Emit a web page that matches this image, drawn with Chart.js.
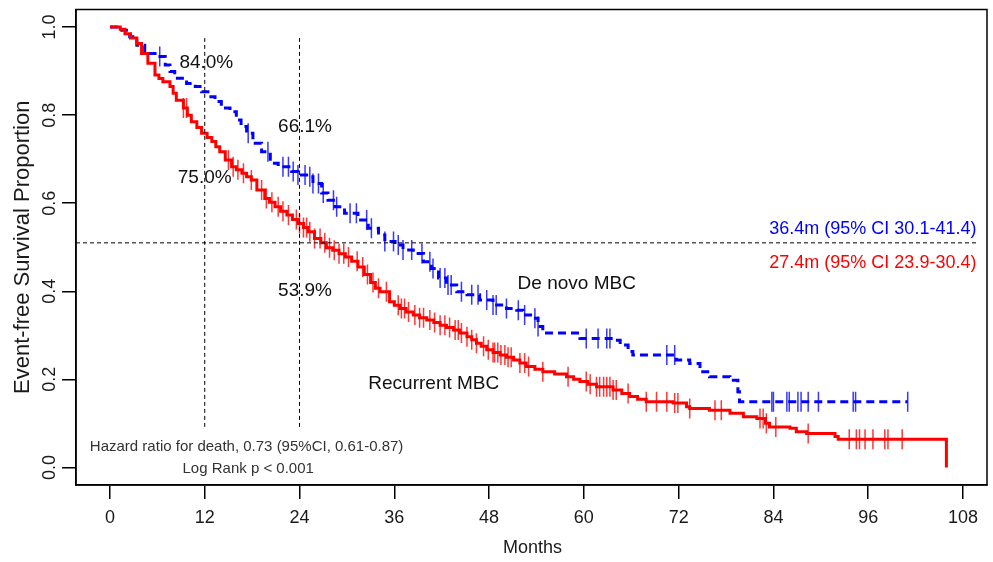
<!DOCTYPE html>
<html>
<head>
<meta charset="utf-8">
<script src="https://cdn.jsdelivr.net/npm/chart.js@4.4.1/dist/chart.umd.min.js"></script>
<style>
  html, body { margin: 0; padding: 0; background: #fff; }
</style>
</head>
<body>
<canvas id="chart" width="993" height="562"></canvas>
<script>
// ========================== DATA ==========================
const xTicks = [0, 12, 24, 36, 48, 60, 72, 84, 96, 108];
const yTicks = [0.0, 0.2, 0.4, 0.6, 0.8, 1.0];

// De novo MBC (blue, dashed) - KM steps
const deNovoMonths = [0, 1.5, 2.5, 3.4, 4.4, 6.1, 7.0, 7.6, 8.2, 9.7, 10.8, 11.6, 12.4, 13.3, 14.1, 15.2, 16.0, 16.6, 17.3, 18.1,
  19.2, 20.3, 21.3, 23.0, 23.8, 24.9, 25.7, 26.8, 27.6, 28.5, 29.7, 31.4, 32.7, 34.0, 34.8, 36.1, 37.1, 38.4, 39.7, 40.7,
  41.6, 42.6, 43.9, 45.2, 46.8, 48.5, 50.2, 51.5, 52.3, 53.6, 54.2, 54.8, 59.5, 63.7, 64.6, 65.6, 66.2, 71.7, 73.4, 74.7,
  75.9, 78.5, 79.5, 79.7, 101.0];
const deNovoSurv = [1.0, 0.993, 0.978, 0.959, 0.94, 0.933, 0.914, 0.899, 0.884, 0.872, 0.865, 0.853, 0.842, 0.831, 0.816, 0.808, 0.789, 0.774, 0.759, 0.736,
  0.717, 0.691, 0.683, 0.672, 0.664, 0.66, 0.645, 0.623, 0.607, 0.592, 0.577, 0.562, 0.543, 0.528, 0.513, 0.505, 0.494, 0.486, 0.467, 0.452,
  0.43, 0.414, 0.399, 0.392, 0.38, 0.369, 0.361, 0.357, 0.346, 0.339, 0.32, 0.305, 0.293, 0.289, 0.278, 0.263, 0.255, 0.244, 0.236, 0.217,
  0.206, 0.198, 0.172, 0.149, 0.149];
const deNovoCensor = [6.3, 17.5, 20.0, 21.9, 22.6, 23.2, 23.8, 24.7, 25.3, 25.7, 26.4, 27.0, 28.3, 28.7, 30.4, 31.2, 32.5, 33.1, 34.8, 35.9,
  36.5, 37.1, 38.2, 39.5, 40.5, 40.9, 41.8, 42.4, 42.8, 43.2, 44.5, 45.8, 46.6, 47.7, 48.5, 48.9, 50.2, 51.7, 52.5, 53.8,
  54.2, 60.3, 61.8, 62.9, 63.3, 70.5, 71.5, 83.8, 84.0, 85.7, 86.0, 87.1, 87.5, 88.4, 89.7, 94.1, 94.4, 101.0];

// Recurrent MBC (red, solid)
const recurMonths = [0, 1.3, 1.9, 2.6, 3.4, 4.0, 4.8, 5.7, 6.2, 6.7, 7.6, 8.0, 8.4, 9.3, 9.8, 10.3, 11.0, 11.6, 12.3, 12.9,
  13.4, 13.9, 14.6, 15.4, 16.0, 16.7, 17.3, 17.9, 18.6, 19.6, 20.2, 20.9, 21.6, 22.4, 23.1, 23.8, 24.5, 25.1, 25.9, 26.7,
  27.4, 28.2, 29.0, 29.8, 30.6, 31.4, 32.2, 33.0, 33.6, 34.2, 35.4, 36.0, 36.7, 37.5, 38.4, 39.2, 40.1, 41.0, 41.8, 42.6,
  43.5, 44.3, 45.2, 45.8, 46.4, 47.0, 47.7, 48.5, 49.4, 50.2, 51.1, 51.9, 52.7, 53.8, 54.8, 56.3, 57.8, 58.7, 59.5, 60.5,
  61.6, 63.7, 64.8, 65.8, 66.8, 67.9, 71.3, 73.0, 73.4, 75.9, 78.5, 80.2, 81.9, 83.0, 83.5, 86.1, 86.9, 88.2, 91.8, 92.2,
  105.9];
const recurSurv = [1.0, 0.995, 0.985, 0.975, 0.963, 0.94, 0.918, 0.891, 0.883, 0.876, 0.865, 0.85, 0.834, 0.816, 0.80, 0.785, 0.772, 0.759, 0.749, 0.74,
  0.728, 0.717, 0.698, 0.683, 0.676, 0.668, 0.66, 0.653, 0.63, 0.611, 0.602, 0.592, 0.582, 0.573, 0.563, 0.554, 0.545, 0.535, 0.52, 0.51,
  0.499, 0.493, 0.485, 0.478, 0.468, 0.455, 0.438, 0.42, 0.407, 0.399, 0.376, 0.368, 0.361, 0.353, 0.346, 0.34, 0.335, 0.329, 0.323, 0.318,
  0.312, 0.305, 0.297, 0.29, 0.282, 0.275, 0.267, 0.261, 0.255, 0.25, 0.244, 0.237, 0.229, 0.223, 0.217, 0.212, 0.206, 0.20, 0.195, 0.189,
  0.183, 0.176, 0.168, 0.161, 0.155, 0.149, 0.146, 0.138, 0.134, 0.13, 0.123, 0.115, 0.111, 0.10, 0.092, 0.089, 0.081, 0.077, 0.07, 0.064,
  0.0];
const recurCensor = [9.3, 9.7, 15.0, 15.6, 16.2, 16.9, 17.9, 19.2, 19.8, 20.5, 21.3, 21.9, 22.6, 23.6, 24.0, 24.5, 24.9, 25.3, 25.9, 26.6,
  27.2, 27.8, 28.4, 29.0, 29.6, 30.2, 31.3, 32.0, 32.6, 33.3, 34.0, 35.0, 36.5, 36.9, 37.3, 37.8, 38.6, 39.2, 39.7, 40.5,
  41.1, 41.8, 42.4, 43.0, 43.7, 44.1, 44.5, 45.2, 45.8, 46.4, 47.3, 47.9, 48.5, 48.7, 49.1, 49.5, 50.0, 50.4, 50.8, 51.9,
  52.5, 53.0, 54.8, 58.0, 60.3, 60.8, 61.6, 62.0, 62.5, 62.9, 63.3, 63.7, 64.1, 65.6, 67.9, 69.2, 70.5, 71.5, 71.9, 73.4,
  76.6, 77.4, 82.3, 82.7, 83.1, 84.3, 88.4, 93.6, 94.5, 94.9, 95.6, 96.6, 98.1, 98.5, 100.3];

// reference lines (landmarks at 12 / 24 months, median line)
const landmarkMonths = [12, 24];
const landmarkSpan = [0.092, 0.975];
const medianLevel = 0.51;
const medianSpan = [-4.3, 109.9];

// ========================== HELPERS ==========================
const FONT = "'Liberation Sans', Arial, sans-serif";

function toPoints(xs, ys) {
  return xs.map((x, i) => ({ x, y: ys[i] }));
}

// survival value of the step curve at month m (censor marks sit on the curve)
function survAt(months, surv, m) {
  let s = surv[0];
  for (let i = 0; i < months.length; i++) {
    if (months[i] <= m) s = surv[i];
  }
  return s;
}

function censorPoints(months, surv, cens) {
  return cens.map(m => ({ x: m, y: survAt(months, surv, m) }));
}

// ========================== TEXT PLUGIN ==========================
const labels = [
  { text: "84.0%", x: 12.2, y: 0.92, size: 19, color: "#111" },
  { text: "66.1%", x: 24.7, y: 0.773, size: 19, color: "#111" },
  { text: "75.0%", x: 12, y: 0.657, size: 19, color: "#111" },
  { text: "53.9%", x: 24.7, y: 0.402, size: 19, color: "#111" },
  { text: "De novo MBC", x: 59.1, y: 0.418, size: 19, color: "#111" },
  { text: "Recurrent MBC", x: 41, y: 0.191, size: 19, color: "#111" },
  { text: "Hazard ratio for death, 0.73 (95%CI, 0.61-0.87)", x: 17.3, y: 0.046, size: 15, color: "#333" },
  { text: "Log Rank p < 0.001", x: 17.5, y: -0.004, size: 15, color: "#333" },
  { text: "36.4m (95% CI 30.1-41.4)", x: 109.7, y: 0.541, size: 18, color: "#0000ff", align: "right" },
  { text: "27.4m (95% CI 23.9-30.4)", x: 109.7, y: 0.464, size: 18, color: "#ff0000", align: "right" }
];

const textPlugin = {
  id: "kmText",
  afterDraw(chart) {
    const { ctx, chartArea, scales } = chart;
    const xs = scales.x, ys = scales.y;
    ctx.save();

    // box round the plot
    ctx.strokeStyle = "#000";
    ctx.lineWidth = 1.5;
    ctx.strokeRect(chartArea.left, chartArea.top, chartArea.right - chartArea.left, chartArea.bottom - chartArea.top);

    // annotations
    ctx.textBaseline = "middle";
    labels.forEach(l => {
      ctx.font = l.size + "px " + FONT;
      ctx.fillStyle = l.color;
      ctx.textAlign = l.align || "center";
      ctx.fillText(l.text, xs.getPixelForValue(l.x), ys.getPixelForValue(l.y));
    });

    // rotated y tick labels (R style)
    ctx.fillStyle = "#1a1a1a";
    ctx.font = "18px " + FONT;
    ctx.textAlign = "center";
    yTicks.forEach(v => {
      ctx.save();
      ctx.translate(50, ys.getPixelForValue(v));
      ctx.rotate(-Math.PI / 2);
      ctx.fillText(v.toFixed(1), 0, 0);
      ctx.restore();
    });

    // axis titles
    ctx.font = "22px " + FONT;
    ctx.save();
    ctx.translate(23, (chartArea.top + chartArea.bottom) / 2);
    ctx.rotate(-Math.PI / 2);
    ctx.fillText("Event-free Survival Proportion", 0, 0);
    ctx.restore();

    ctx.font = "18px " + FONT;
    ctx.fillText("Months", (chartArea.left + chartArea.right) / 2 + 1, 548);

    ctx.restore();
  }
};

// ========================== CHART ==========================
const refLine = {
  borderColor: "#000",
  borderWidth: 1,
  borderDash: [4, 3],
  pointRadius: 0,
  fill: false
};

new Chart(document.getElementById("chart"), {
  type: "line",
  data: {
    datasets: [
      Object.assign({ data: [{ x: landmarkMonths[0], y: landmarkSpan[0] }, { x: landmarkMonths[0], y: landmarkSpan[1] }] }, refLine),
      Object.assign({ data: [{ x: landmarkMonths[1], y: landmarkSpan[0] }, { x: landmarkMonths[1], y: landmarkSpan[1] }] }, refLine),
      Object.assign({ data: [{ x: medianSpan[0], y: medianLevel }, { x: medianSpan[1], y: medianLevel }] }, refLine),
      {
        label: "Recurrent MBC",
        data: toPoints(recurMonths, recurSurv),
        borderColor: "#ff0000",
        borderWidth: 3,
        stepped: "before",
        pointRadius: 0,
        fill: false
      },
      {
        label: "Recurrent censored",
        data: censorPoints(recurMonths, recurSurv, recurCensor),
        showLine: false,
        pointStyle: "line",
        rotation: 90,
        pointRadius: 10,
        borderColor: "rgba(255,20,20,0.85)",
        pointBorderWidth: 1.5
      },
      {
        label: "De novo MBC",
        data: toPoints(deNovoMonths, deNovoSurv),
        borderColor: "#0000ff",
        borderWidth: 3,
        borderDash: [8, 5],
        stepped: "before",
        pointRadius: 0,
        fill: false
      },
      {
        label: "De novo censored",
        data: censorPoints(deNovoMonths, deNovoSurv, deNovoCensor),
        showLine: false,
        pointStyle: "line",
        rotation: 90,
        pointRadius: 10,
        borderColor: "rgba(20,20,255,0.85)",
        pointBorderWidth: 1.5
      }
    ]
  },
  options: {
    responsive: false,
    animation: false,
    layout: { autoPadding: false, padding: { top: 9.5, right: 6, left: 0, bottom: 0 } },
    plugins: {
      legend: { display: false },
      tooltip: { enabled: false }
    },
    scales: {
      x: {
        type: "linear",
        min: -4.3,
        max: 111.04,
        afterBuildTicks: s => { s.ticks = xTicks.map(v => ({ value: v })); },
        afterFit: s => { s.height = 77; s.paddingLeft = 0; s.paddingRight = 0; },
        ticks: {
          color: "#1a1a1a",
          font: { family: FONT, size: 18 },
          padding: 8,
          maxRotation: 0,
          autoSkip: false
        },
        grid: { drawOnChartArea: false, drawTicks: true, tickLength: 14, color: "#000", lineWidth: 1.5 },
        border: { display: true, color: "#000", width: 1.5 }
      },
      y: {
        type: "linear",
        min: -0.04,
        max: 1.04,
        afterBuildTicks: s => { s.ticks = yTicks.map(v => ({ value: v })); },
        afterFit: s => { s.width = 76; s.paddingTop = 0; s.paddingBottom = 0; },
        ticks: { callback: () => "" },
        grid: { drawOnChartArea: false, drawTicks: true, tickLength: 14, color: "#000", lineWidth: 1.5 },
        border: { display: true, color: "#000", width: 1.5 }
      }
    }
  },
  plugins: [textPlugin]
});
</script>
</body>
</html>
